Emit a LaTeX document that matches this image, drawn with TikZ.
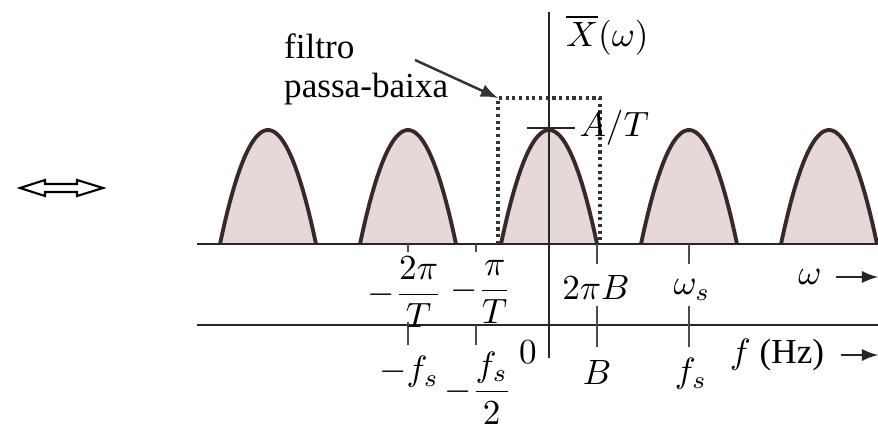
\documentclass[tikz,border=0pt]{standalone}
\usepackage{amsmath}
\usepackage{fontspec}
\setmainfont{Liberation Serif}
\usetikzlibrary{arrows,calc,positioning}
\usepackage{xcolor}

\definecolor{lobefill}{RGB}{228,216,216}
\definecolor{lobeline}{RGB}{58,40,40}

\begin{document}
\begin{tikzpicture}[x=0.1mm, y=-0.1mm,
	lobe/.style={draw=lobeline, line width=1.1pt, line join=round},
	axis/.style={draw=black!85, line width=0.6pt},
	tick/.style={draw=black!70, line width=0.6pt},
	lbl/.style={inner sep=1pt, font=\normalsize},
	filterbox/.style={draw=black!80, densely dotted, line width=0.9pt}]

	\useasboundingbox (0,0) rectangle (878,427);

	\def\yw{244}   % omega axis
	\def\yf{325}   % f axis
	\def\xo{549}   % origin
	\def\lobehw{48}    % half width of a lobe
	\def\lobeht{114}   % height of a lobe

	% spectrum lobes
	\foreach \c in {268,408,549,689,829} {
		\fill[lobefill] plot[domain=-1:1, samples=40] ({\c+\lobehw*\x}, {\yw-\lobeht*(1-\x*\x)}) -- cycle;
		\draw[lobe] plot[domain=-1:1, samples=40] ({\c+\lobehw*\x}, {\yw-\lobeht*(1-\x*\x)});
	}

	% Axes
	\draw[axis] (197,\yw) -- (878,\yw);
	\draw[axis] (197,\yf) -- (878,\yf);
	\draw[axis] (\xo,12) -- (\xo,358);

	% low-pass filter
	\coordinate (fl) at (498,98);
	\draw[filterbox] (498,\yw) -- (fl) -- (600,98) -- (600,\yw);

	% peak mark
	\draw[axis] (527,128) -- (575,128) node[lbl, right] (peak) {$A/T$};

	% ticks on omega axis
	\foreach \t in {408,476}
		\draw[tick] (\t,\yw) -- (\t,252);
	\foreach \t in {597,689} {
		\draw[tick] (\t,\yw) -- (\t,264);
		\draw[tick] (\t,306) -- (\t,347);
	}
	% ticks on f axis
	\draw[tick] (408,322) -- (408,345);
	\draw[tick] (476,\yf) -- (476,345);

	% labels on omega axis
	\node[lbl] (wa) at (405,292) {$-\dfrac{2\pi}{T}$};
	\node[lbl] (wb) at (481,292) {$-\dfrac{\pi}{T}$};
	\node[lbl] (wc) at (596,287) {$2\pi B$};
	\node[lbl] (wd) at (692,290) {$\omega_s$};
	\node[lbl] (wl) at (810,277) {$\omega$};
	\coordinate (wend) at (878,277);
	\draw[-latex, axis] (wl.east)+(10,0) -- (wend);

	% labels on f axis
	\node[lbl] (fa) at (409,372) {$-f_s$};
	\node[lbl] (fb) at (478,388) {$-\dfrac{f_s}{2}$};
	\node[lbl] (fo) at (528,352) {$0$};
	\node[lbl] (fc) at (597,372) {$B$};
	\node[lbl] (fd) at (691,374) {$f_s$};
	\node[lbl] (fl2) at (777,355) {$f$ (Hz)};
	\coordinate (fend) at (878,355);
	\draw[-latex, axis] (fl2.east)+(13,0) -- (fend);

	% title and filter note
	\node[lbl, anchor=west] (xw) at (562,35) {$\overline{X}(\omega)$};
	\node[lbl, align=left, anchor=north west] (note) at (280,30) {filtro\\[-1pt]passa-baixa};
	\draw[-latex, line width=0.7pt, black!80] (415,60) -- (fl);

	% equivalence arrow
	\draw[line width=0.6pt, line join=miter] (20,188) -- (45,180) -- (45,184) -- (77,184) -- (77,180)
		-- (103,188) -- (77,196) -- (77,192) -- (45,192) -- (45,196) -- cycle;
\end{tikzpicture}
\end{document}
